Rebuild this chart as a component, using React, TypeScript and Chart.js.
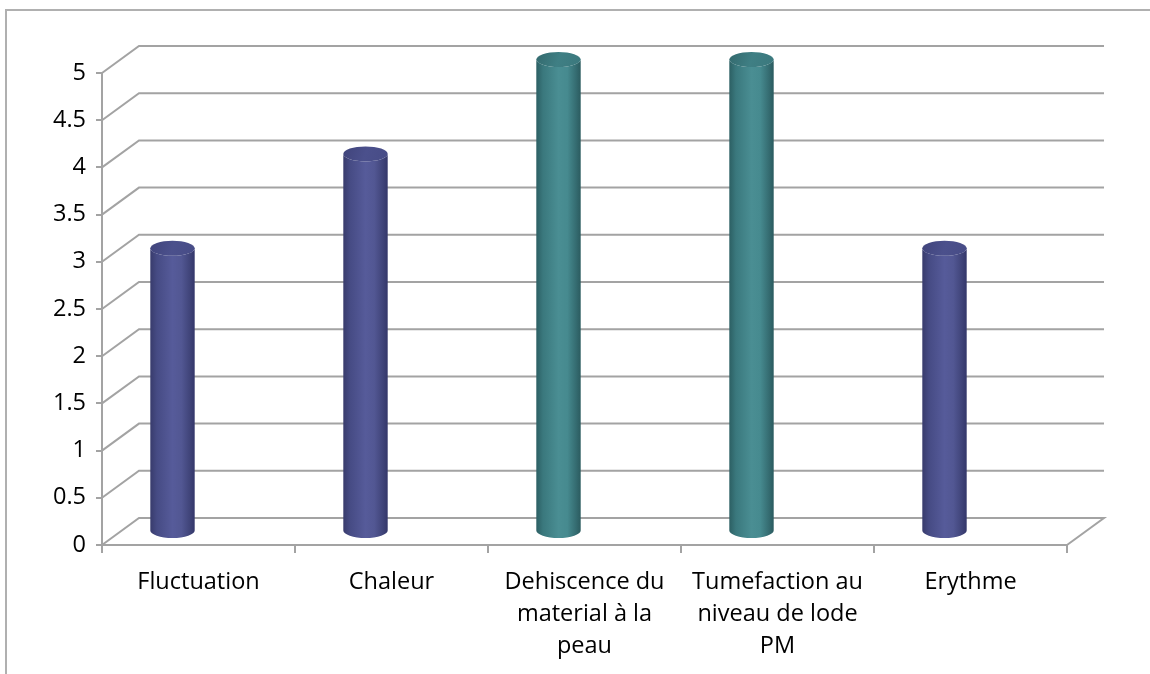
import React, { useEffect, useRef } from "react";
import { Chart, registerables } from "chart.js";

Chart.register(...registerables);

// ---- data ----
const categories: string[][] = [
  ["Fluctuation"],
  ["Chaleur"],
  ["Dehiscence du", "material à la", "peau"],
  ["Tumefaction au", "niveau de lode", "PM"],
  ["Erythme"],
];
const values: number[] = [3, 4, 5, 5, 3];
const yMin = 0;
const yMax = 5;
const yStep = 0.5;
// colour group of each point (0 = blue-violet, 1 = teal)
const pointGroup: number[] = [0, 0, 1, 1, 0];

// ---- style ----
const GRID = "#a3a3a3";
const DEPTH_X = 37;
const DEPTH_Y = 27;
const BAR_SHIFT = -26;
const ELL_RY = 7.5;
const FONT = "'Open Sans', 'DejaVu Sans', sans-serif";

const palettes = [
  {
    body: ["#383b6c", "#464b84", "#565b9a", "#52579363", "#3f4378", "#34376a"],
    top: ["#40447b", "#4b508c", "#474c86"],
  },
  {
    body: ["#2c5f63", "#3a787d", "#4a8e93", "#468a8f", "#346b70", "#2b5b5f"],
    top: ["#33696d", "#3f7f84", "#3b787d"],
  },
];

const wallPlugin = {
  id: "walls3d",
  beforeDraw(chart: any) {
    const ctx = chart.ctx;
    ctx.save();
    ctx.fillStyle = "#ffffff";
    ctx.fillRect(0, 0, chart.width, chart.height);
    ctx.strokeStyle = "#b0b0b0";
    ctx.lineWidth = 2;
    ctx.beginPath();
    ctx.moveTo(6, chart.height);
    ctx.lineTo(6, 10);
    ctx.lineTo(chart.width, 10);
    ctx.stroke();
    ctx.restore();
  },
  beforeDatasetsDraw(chart: any) {
    const { ctx, chartArea } = chart;
    const { left, right } = chartArea;
    const y = chart.scales.y;
    ctx.save();
    ctx.strokeStyle = GRID;
    ctx.lineWidth = 2;
    ctx.lineJoin = "miter";
    y.ticks.forEach((t: any) => {
      const py = y.getPixelForValue(t.value);
      ctx.beginPath();
      ctx.moveTo(left, py);
      ctx.lineTo(left + DEPTH_X, py - DEPTH_Y);
      ctx.lineTo(right + DEPTH_X, py - DEPTH_Y);
      if (t.value === y.min) ctx.lineTo(right, py);
      ctx.stroke();
    });
    ctx.restore();
  },
};

const cylinderPlugin = {
  id: "cylinders",
  afterDatasetsDraw(chart: any) {
    const ctx = chart.ctx;
    const meta = chart.getDatasetMeta(0);
    ctx.save();
    meta.data.forEach((el: any, i: number) => {
      const p = palettes[pointGroup[i]];
      const cx = el.x + BAR_SHIFT;
      const rx = el.width / 2;
      const topY = el.y - DEPTH_Y / 2;
      const botY = el.base - DEPTH_Y / 2;
      const l = cx - rx;
      const r = cx + rx;
      const g = ctx.createLinearGradient(l, 0, r, 0);
      const stops = [0, 0.15, 0.5, 0.7, 0.9, 1];
      stops.forEach((s, k) => g.addColorStop(s, p.body[k].slice(0, 7)));
      ctx.beginPath();
      ctx.moveTo(l, topY);
      ctx.lineTo(l, botY);
      ctx.ellipse(cx, botY, rx, ELL_RY, 0, Math.PI, 0, true);
      ctx.lineTo(r, topY);
      ctx.ellipse(cx, topY, rx, ELL_RY, 0, 0, Math.PI, false);
      ctx.closePath();
      ctx.fillStyle = g;
      ctx.fill();
      const gt = ctx.createLinearGradient(l, topY - ELL_RY, r, topY + ELL_RY);
      gt.addColorStop(0, p.top[0]);
      gt.addColorStop(0.5, p.top[1]);
      gt.addColorStop(1, p.top[2]);
      ctx.beginPath();
      ctx.ellipse(cx, topY, rx, ELL_RY, 0, 0, Math.PI * 2);
      ctx.fillStyle = gt;
      ctx.fill();
    });
    ctx.restore();
  },
};

export default function App() {
  const ref = useRef<HTMLCanvasElement | null>(null);
  useEffect(() => {
    if (!ref.current) return;
    const chart = new Chart(ref.current, {
      type: "bar",
      data: {
        labels: categories,
        datasets: [
          {
            data: values,
            backgroundColor: "rgba(0,0,0,0)",
            borderWidth: 0,
            categoryPercentage: 1,
            barPercentage: 0.23,
          },
        ],
      },
      options: {
        responsive: false,
        animation: false,
        devicePixelRatio: 1,
        layout: { padding: { top: 73, right: 83, left: 0, bottom: 0 } },
        plugins: { legend: { display: false }, tooltip: { enabled: false } },
        scales: {
          x: {
            offset: true,
            afterFit: (s: any) => {
              s.height = 129;
            },
            grid: {
              offset: true,
              drawOnChartArea: false,
              drawTicks: true,
              tickLength: 8,
              color: GRID,
              lineWidth: 2,
            },
            border: { display: true, color: GRID, width: 2 },
            ticks: {
              color: "#000",
              padding: 13,
              maxRotation: 0,
              autoSkip: false,
              font: { family: FONT, size: 23.5, lineHeight: "32px" },
            },
          },
          y: {
            min: yMin,
            max: yMax,
            afterFit: (s: any) => {
              s.width = 102;
            },
            grid: {
              drawOnChartArea: false,
              drawTicks: true,
              tickLength: 6,
              color: GRID,
              lineWidth: 2,
            },
            border: { display: true, color: GRID, width: 2 },
            ticks: {
              stepSize: yStep,
              color: "#000",
              padding: 10,
              font: { family: FONT, size: 23.5 },
              callback: (v: any) => String(v),
            },
          },
        },
      },
      plugins: [wallPlugin, cylinderPlugin],
    });
    return () => chart.destroy();
  }, []);
  return (
    <div style={{ position: "absolute", left: 0, top: 0, width: 1150, height: 674 }}>
      <canvas ref={ref} width={1150} height={674} />
    </div>
  );
}
